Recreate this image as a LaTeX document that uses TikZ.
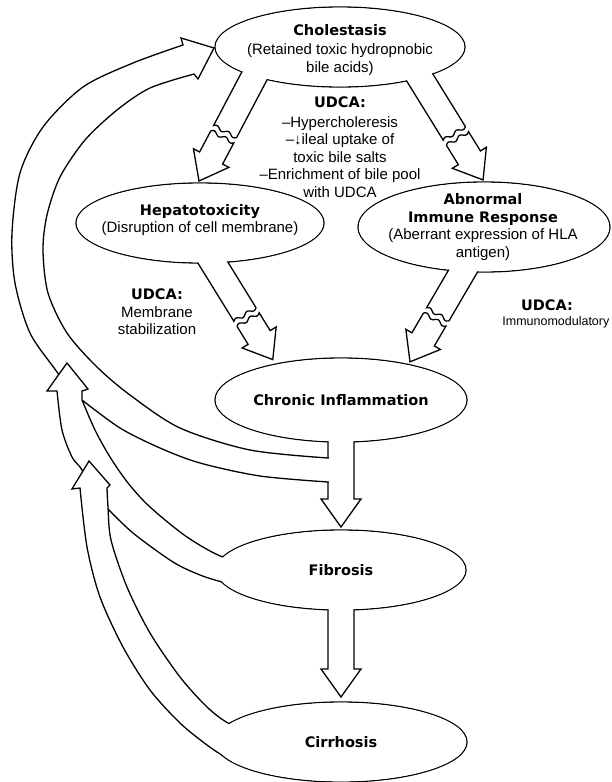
\documentclass[tikz,border=0pt]{standalone}
\usepackage{fontspec}
\setmainfont{Liberation Sans}
\newfontfamily\headfamily{DejaVu Sans}
\newcommand\hdfont{\headfamily\bfseries\fontsize{14.5}{17}\selectfont}
\usetikzlibrary{shapes.geometric}
\begin{document}
\begin{tikzpicture}[x=1pt, y=-1pt, line width=1.3pt,
  blob/.style={ellipse, draw, fill=white, inner sep=0pt},
  hollow/.style={draw, fill=white},
  txt/.style={align=center, inner sep=0pt, font={\fontsize{15}{17.5}\selectfont}},
  hd/.style={inner sep=0pt, font=\hdfont}]
% Cholestasis cycle with the UDCA actions, drawn in pixel units (y down)
\useasboundingbox (0,0) rectangle (612,782);
% Wide arrow with a wavy break: origin, angle, length to tip, break
\def\brokenarrow#1#2#3#4{%
  \begin{scope}[shift={(#1)}, rotate=#2]
    \path[hollow] (-30,-13) -- (#4,-13)
      -- plot[domain=-13:13, samples=27] ({#4+1.6*sin(27.7*\x)}, {\x})
      -- (-30,13) -- cycle;
    \path[hollow] (#4+6,13)
      -- plot[domain=13:-13, samples=27] ({#4+6+1.6*sin(27.7*\x)}, {\x})
      -- (#3-26,-13) -- (#3-26,-20) -- (#3,0) -- (#3-26,20) -- (#3-26,13) -- cycle;
  \end{scope}}
% Ellipses
\node[blob, minimum width=250pt, minimum height=80pt] (chol) at (340,47) {};
\node[blob, minimum width=248pt, minimum height=80pt] (hep) at (200,223) {};
\node[blob, minimum width=252pt, minimum height=90pt] (abn) at (484,227) {};
\node[blob, minimum width=252pt, minimum height=84pt] (chr) at (341,400) {};
\node[blob, minimum width=250pt, minimum height=80pt] (fib) at (341,570) {};
\node[blob, minimum width=252pt, minimum height=80pt] (cir) at (341,742) {};
% Broken arrows
\brokenarrow{247,90}{-117.8}{102.9}{47}
\brokenarrow{427.5,90}{-58.3}{105.7}{51}
\brokenarrow{215,266}{-58.3}{110}{57}
\brokenarrow{466,266}{-120.3}{111}{56}
% Straight arrows down
\path[hollow] (328,430) -- (328,499) -- (321,499) -- (341,527) -- (361,499) -- (354,499) -- (354,430) -- cycle;
\path[hollow] (328,595) -- (328,669) -- (321,669) -- (341,697) -- (361,669) -- (354,669) -- (354,595) -- cycle;
% Feedback band: chronic inflammation back to cholestasis
\path[hollow] (348,458) -- (328,458)
  -- plot[smooth] coordinates {(328,458) (250,450) (180,428) (130,395) (97,367) (67,333) (48,293) (43,250) (47,215) (60,177) (85,140) (117,110) (150,88) (194,74)}
  -- (198,79) -- (214,48) -- (181,38) -- (183,45)
  -- plot[smooth] coordinates {(183,45) (133,63) (83,87) (43,127) (20,173) (12,233) (15,283) (30,333) (57,372) (72,395)}
  -- (82,400)
  -- plot[smooth] coordinates {(82,400) (120,428) (160,448) (200,463) (260,476) (328,482)}
  -- (348,482) -- cycle;
% Feedback band from fibrosis
\path[hollow] (67,363) -- (47,391) -- (57,391)
  -- plot[smooth] coordinates {(57,391) (62,430) (72,457) (82,470) (92,495)}
  -- (107,508)
  -- plot[smooth] coordinates {(107,508) (133,533) (173,562) (200,575) (222,582) (245,588)}
  -- (245,555)
  -- plot[smooth] coordinates {(245,555) (223,557) (187,537) (150,507) (128,483) (110,457) (95,430) (82,400)}
  -- (82,391) -- (88,389) -- cycle;
% Feedback band from cirrhosis
\path[hollow] (89,461) -- (72,489) -- (80,488)
  -- plot[smooth] coordinates {(80,488) (87,547) (100,597) (123,647) (150,690) (180,723) (207,745) (227,758) (250,768)}
  -- (250,730)
  -- plot[smooth] coordinates {(250,730) (228,723) (207,707) (180,677) (150,633) (127,587) (111,540) (108,507) (107,488)}
  -- (110,485) -- cycle;
% Open the shaft where the band leaves it
\fill[white] (328.7,450) rectangle (353.3,490);
% Clear the ellipse insides
\foreach \n/\rx/\ry in {chol/124.3/39.3, hep/123.3/39.3, abn/125.3/44.3, chr/125.3/41.3, fib/124.3/39.3, cir/125.3/39.3}
  \fill[white] (\n.center) ellipse [x radius=\rx pt, y radius=\ry pt];
% Texts
\node[txt] (chol-t) at (340,50) {{\hdfont Cholestasis}\\[2pt](Retained toxic hydropnobic\\bile acids)};
\node[txt] (udca-top) at (340,147) {{\hdfont UDCA:}\\[2pt]–Hypercholeresis\\–↓ileal uptake of\\toxic bile salts\\–Enrichment of bile pool\\with UDCA};
\node[txt] (hep-t) at (200,220) {{\hdfont Hepatotoxicity}\\(Disruption of cell membrane)};
\node[txt] (abn-t) at (483,227) {{\hdfont Abnormal}\\{\hdfont Immune Response}\\(Aberrant expression of HLA\\antigen)};
\node[txt] (udca-left) at (157,312) {{\hdfont UDCA:}\\Membrane\\stabilization};
\node[hd] (udca-right) at (547,305) {UDCA:};
\node[txt, anchor=east, font={\fontsize{12.5}{15}\selectfont}] (immuno) at (610,322) {Immunomodulatory};
\node[hd] (chr-t) at (chr.center) {Chronic Inflammation};
\node[hd] (fib-t) at (fib.center) {Fibrosis};
\node[hd] (cir-t) at (cir.center) {Cirrhosis};
\end{tikzpicture}
\end{document}
